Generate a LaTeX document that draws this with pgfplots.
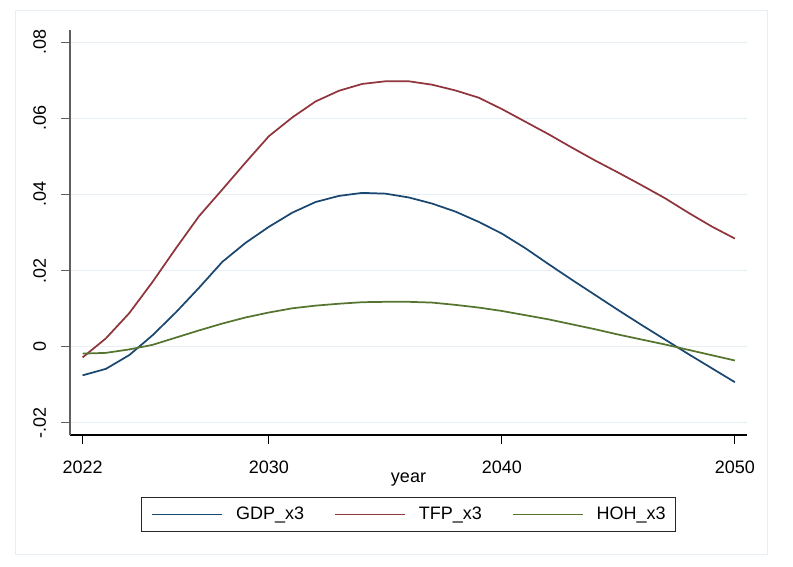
\documentclass[border=0pt]{standalone}
\usepackage{pgfplots}
\usepackage{pgfplotstable}
\pgfplotsset{compat=1.18}
\usepackage{fontspec}
\setmainfont{Liberation Sans}
\definecolor{sgdp}{RGB}{26,71,111}
\definecolor{stfp}{RGB}{144,53,59}
\definecolor{shoh}{RGB}{85,117,47}
\definecolor{sgrid}{RGB}{230,239,243}
\definecolor{saxis}{RGB}{95,95,95}

\pgfplotstableread{
year gdp tfp hoh
2022 -0.0075 -0.0028 -0.0018
2023 -0.0058 0.0022 -0.0016
2024 -0.0022 0.0088 -0.0007
2025 0.0030 0.0170 0.0005
2026 0.0090 0.0258 0.0024
2027 0.0155 0.0343 0.0043
2028 0.0223 0.0413 0.0061
2029 0.0273 0.0484 0.0077
2030 0.0315 0.0553 0.0090
2031 0.0352 0.0602 0.0101
2032 0.0380 0.0644 0.0108
2033 0.0396 0.0672 0.0113
2034 0.0404 0.0690 0.0117
2035 0.0402 0.0697 0.0118
2036 0.0392 0.0697 0.0118
2037 0.0376 0.0688 0.0116
2038 0.0355 0.0673 0.0110
2039 0.0328 0.0654 0.0103
2040 0.0297 0.0624 0.0094
2041 0.0259 0.0591 0.0083
2042 0.0217 0.0558 0.0072
2043 0.0176 0.0523 0.0059
2044 0.0136 0.0489 0.0046
2045 0.0096 0.0457 0.0032
2046 0.0057 0.0424 0.0019
2047 0.0019 0.0390 0.0006
2048 -0.0019 0.0352 -0.0008
2049 -0.0056 0.0316 -0.0022
2050 -0.0093 0.0284 -0.0036
}\data

\begin{document}
\begin{tikzpicture}[font=\fontsize{13.5pt}{16pt}\selectfont]
\useasboundingbox (0,0) rectangle (594.75pt,425.25pt);
\draw[sgrid, line width=0.75pt] (11.25pt,9pt) rectangle (575.25pt,417pt);
\begin{axis}[
  at={(52.5pt,99pt)}, anchor=south west,
  scale only axis, width=507.75pt, height=303.75pt,
  xmin=2021.46, xmax=2050.52, ymin=-0.02316, ymax=0.08316,
  scaled y ticks=false, scaled x ticks=false,
  axis x line*=bottom, axis y line*=left,
  x axis line style={black, line width=0.8pt},
  y axis line style={saxis, line width=1pt},
  xtick={2022,2030,2040,2050},
  xticklabels={2022,2030,2040,2050},
  ytick={-0.02,0,0.02,0.04,0.06,0.08},
  yticklabels={-.02,0,.02,.04,.06,.08},
  tick align=outside, major tick length=6.5pt,
  xtick style={black, line width=0.8pt},
  ytick style={saxis, line width=0.8pt},
  ymajorgrids, grid style={sgrid, line width=0.75pt},
  yticklabel style={anchor=south, rotate=90, inner sep=0pt, yshift=11.25pt},
  xticklabel style={yshift=-22.5pt, anchor=base, inner sep=0pt},
  every axis x label/.style={at={(axis description cs:0.5,0)}, anchor=base, yshift=-36pt},
  xlabel={year},
  legend columns=3,
  legend style={at={(0.5,-0.1963)}, anchor=center, draw=black!85, line width=0.6pt,
    inner xsep=7.5pt, inner ysep=7pt,
    nodes={inner sep=0pt},
    /tikz/every odd column/.append style={column sep=9.75pt},
    /tikz/every even column/.append style={column sep=22.5pt}},
  legend image code/.code={\draw[#1] (0pt,0pt) -- (52.5pt,0pt);},
  no markers,
  every axis plot/.append style={line width=1.3pt},
]
\addplot[sgdp] table[x=year, y=gdp] {\data};
\addlegendentry{GDP\_x3}
\addplot[stfp] table[x=year, y=tfp] {\data};
\addlegendentry{TFP\_x3}
\addplot[shoh] table[x=year, y=hoh] {\data};
\addlegendentry{HOH\_x3}
\end{axis}
\end{tikzpicture}
\end{document}
